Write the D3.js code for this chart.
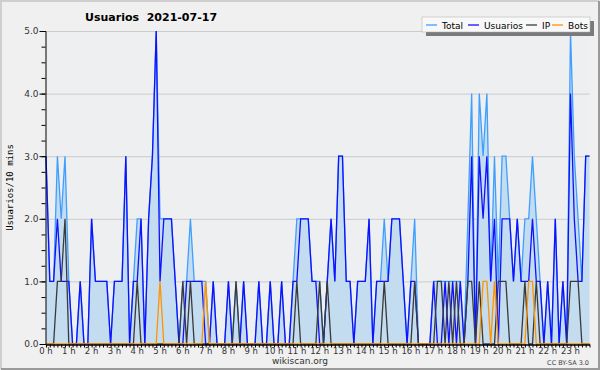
<!DOCTYPE html>
<html>
<head>
<meta charset="utf-8">
<script src="https://cdn.jsdelivr.net/npm/d3@7"></script>
<style>
  body { margin: 0; background: #f0f0f0; }
  text { font-family: "DejaVu Sans", sans-serif; }
</style>
</head>
<body>
<div id="chart"></div>
<script>
// values per 10 minutes, 144 slots (00:00 .. 23:50)
const total = [
  3,1,1,3,2,3,1,0,0,1, 0,0,2,1,1,1,1,0,1,1, 1,3,0,1,2,2,0,2,3,5,
  2,2,2,2,1,0,1,1,2,1, 1,1,1,0,1,0,0,0,1,0, 1,0,1,0,0,0,1,0,0,1,
  0,0,1,0,0,1,2,2,2,2, 1,1,1,0,1,2,1,3,3,1, 1,0,1,1,1,2,0,1,1,2,
  1,2,2,2,1,0,1,2,0,0, 0,0,1,1,1,1,1,1,1,1, 0,2,4,0,4,3,4,1,3,1,
  3,3,2,1,2,1,2,2,3,2, 1,0,1,0,2,0,1,0,5,3, 2,1,3,3
];
const usuarios = [
  3,1,1,2,1,1,1,0,0,1, 0,0,2,1,1,1,1,0,1,1, 1,3,0,1,1,2,0,2,3,5,
  1,2,2,2,1,0,0,1,1,1, 1,1,0,0,1,0,0,0,1,0, 0,0,1,0,0,0,1,0,0,1,
  0,0,1,0,0,1,1,2,2,2, 1,1,0,0,1,2,1,3,3,1, 1,0,1,1,1,2,0,1,1,1,
  1,2,2,2,1,0,1,1,0,0, 0,0,1,0,0,1,0,1,0,1, 0,1,3,0,3,2,3,1,2,0,
  2,2,2,1,2,1,1,1,2,1, 1,0,1,0,2,0,1,0,4,2, 1,1,3,3
];
const ip = [
  0,0,0,1,1,2,0,0,0,0, 0,0,0,0,0,0,0,0,0,0, 0,0,0,0,1,0,0,0,0,0,
  0,0,0,0,0,0,1,0,1,0, 0,0,0,0,0,0,0,0,0,0, 1,0,0,0,0,0,0,0,0,0,
  0,0,0,0,0,0,1,0,0,0, 0,0,1,0,1,0,0,0,0,0, 0,0,0,0,0,0,0,0,0,1,
  0,0,0,0,0,0,0,1,0,0, 0,0,0,1,1,0,1,0,1,0, 0,1,1,0,1,0,0,0,0,1,
  1,1,0,0,0,0,1,0,0,1, 0,0,0,0,0,0,0,0,1,1, 1,0,0,0
];
const bots = [
  0,0,0,0,0,0,0,0,0,0, 0,0,0,0,0,0,0,0,0,0, 0,0,0,0,0,0,0,0,0,0,
  1,0,0,0,0,0,0,0,0,0, 0,0,1,0,0,0,0,0,0,0, 0,0,0,0,0,0,0,0,0,0,
  0,0,0,0,0,0,0,0,0,0, 0,0,0,0,0,0,0,0,0,0, 0,0,0,0,0,0,0,0,0,0,
  0,0,0,0,0,0,0,0,0,0, 0,0,0,0,0,0,0,0,0,0, 0,0,0,0,0,1,1,0,1,0,
  0,0,0,0,0,0,0,1,1,0, 0,0,0,0,0,0,0,0,0,0, 0,0,0,0
];
const hourLabels = d3.range(24).map(h => h + " h");
const yTicks = [0, 1, 2, 3, 4, 5];
const seriesNames = ["Total", "Usuarios", "IP", "Bots"];

const colors = {Total: "#3f9fff", Usuarios: "#1010ff", IP: "#3a3a3a", Bots: "#ff9400"};

const W = 600, H = 370;
const margin = {top: 31, right: 10, bottom: 26, left: 46};

const svg = d3.select("#chart").append("svg")
    .attr("width", W)
    .attr("height", H);

// frame
svg.append("rect").attr("width", W).attr("height", H).attr("fill", "#f0f0f0");
svg.append("path").attr("d", "M1,369 V1 H599").attr("fill", "none").attr("stroke", "#cfcfcf").attr("stroke-width", 2);
svg.append("path").attr("d", "M1,369 H599 V1").attr("fill", "none").attr("stroke", "#9a9a9a").attr("stroke-width", 2);

const x = d3.scaleLinear()
    .domain([0, total.length - 1])
    .range([margin.left, 589.5]);

const y = d3.scaleLinear()
    .domain([0, 5])
    .range([344, margin.top]);

// canvas
svg.append("rect")
    .attr("x", x(0)).attr("y", y(5))
    .attr("width", x(total.length - 1) - x(0))
    .attr("height", y(0) - y(5))
    .attr("fill", "#eeeff1");

// grid
svg.append("g")
    .selectAll("line")
    .data(yTicks.slice(1))
    .enter().append("line")
    .attr("x1", x(0)).attr("x2", x(total.length - 1))
    .attr("y1", d => y(d) + 0.5).attr("y2", d => y(d) + 0.5)
    .attr("stroke", "#cbcbcb");

// total area
const area = d3.area()
    .x((d, i) => x(i))
    .y0(y(0))
    .y1(d => y(d));

svg.append("path")
    .datum(total)
    .attr("d", area)
    .attr("fill", "#c4dcf0");

const line = d3.line()
    .x((d, i) => x(i))
    .y(d => y(d));

const seriesData = {Total: total, Usuarios: usuarios, IP: ip, Bots: bots};
seriesNames.forEach(function(name) {
    svg.append("path")
        .datum(seriesData[name])
        .attr("d", line)
        .attr("fill", "none")
        .attr("stroke", colors[name])
        .attr("stroke-width", 1.3);
});

// y axis
const yAxis = svg.append("g")
    .attr("transform", "translate(" + (x(0) - 0.5) + ",0)")
    .call(d3.axisLeft(y).tickValues(d3.range(0, 5.01, 0.25)).tickSize(4).tickFormat(""));
yAxis.select(".domain").attr("stroke", "#000");
yAxis.selectAll(".tick line").attr("stroke", "#000");

svg.append("g")
    .attr("transform", "translate(" + (x(0) - 0.5) + ",0)")
    .call(d3.axisLeft(y).tickValues(yTicks).tickSize(6).tickFormat(d3.format(".1f")))
    .call(g => g.select(".domain").remove())
    .call(g => g.selectAll("text")
        .attr("x", -7)
        .style("font-family", "DejaVu Sans")
        .style("font-size", "9px")
        .attr("fill", "#333"));

// x axis
const xAxis = svg.append("g")
    .attr("transform", "translate(0," + (y(0) + 0.5) + ")")
    .call(d3.axisBottom(x).tickValues(d3.range(0, total.length)).tickSize(3).tickSizeOuter(0).tickFormat(""));
xAxis.select(".domain").attr("stroke", "#000").attr("stroke-width", 1.5);

svg.append("g")
    .selectAll("text")
    .data(hourLabels)
    .enter().append("text")
    .attr("x", (d, i) => x(i * 6))
    .attr("y", 354)
    .attr("text-anchor", "middle")
    .style("font-size", "8.5px")
    .attr("fill", "#333")
    .text(d => d);

// title and labels
svg.append("text")
    .attr("x", 85)
    .attr("y", 21)
    .style("font-weight", "bold")
    .style("font-size", "11px")
    .attr("xml:space", "preserve")
    .text("Usuarios  2021-07-17");

svg.append("text")
    .attr("transform", "translate(13," + ((y(0) + y(5)) / 2) + ") rotate(-90)")
    .attr("text-anchor", "middle")
    .style("font-family", "DejaVu Sans Mono")
    .style("font-size", "9px")
    .text("Usuarios/10 mins");

svg.append("text")
    .attr("x", 300)
    .attr("y", 364)
    .attr("text-anchor", "middle")
    .style("font-size", "9px")
    .attr("fill", "#333")
    .text("wikiscan.org");

svg.append("text")
    .attr("x", 589)
    .attr("y", 365)
    .attr("text-anchor", "end")
    .style("font-size", "6.5px")
    .attr("fill", "#444")
    .text("CC BY-SA 3.0");

// legend
const lg = svg.append("g").attr("transform", "translate(422,17)");
lg.append("rect").attr("x", 4).attr("y", 4).attr("width", 168).attr("height", 15).attr("fill", "#7a7a7a");
lg.append("rect").attr("width", 168).attr("height", 15).attr("fill", "#f8f8f8").attr("stroke", "#aaa").attr("stroke-width", 0.5);

const legendX = [4, 46, 104, 130];
seriesNames.forEach(function(name, i) {
    const item = lg.append("g").attr("transform", "translate(" + legendX[i] + ",0)");
    item.append("line")
        .attr("x1", 0).attr("x2", 11)
        .attr("y1", 8).attr("y2", 8)
        .attr("stroke", colors[name])
        .attr("stroke-width", 1.3);
    item.append("text")
        .attr("x", 16)
        .attr("y", 11.5)
        .style("font-size", "9px")
        .text(name);
});
</script>
</body>
</html>
